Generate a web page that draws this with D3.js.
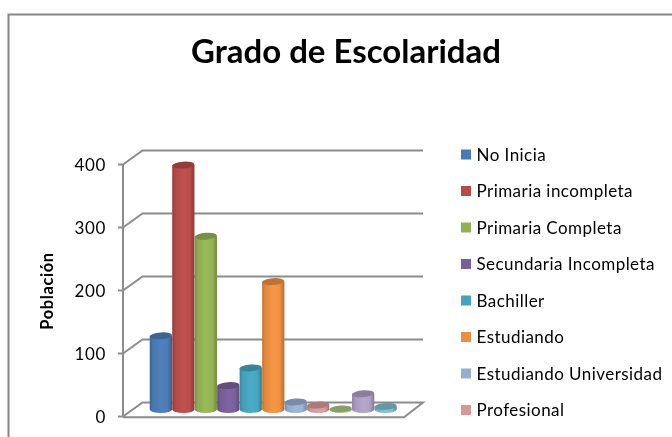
<!DOCTYPE html>
<html><head><meta charset="utf-8">
<script src="https://cdn.jsdelivr.net/npm/d3@7"></script>
<style>html,body{margin:0;padding:0;background:#fff;overflow:hidden}svg{display:block;filter:blur(0.35px)}text{font-family:Lato,sans-serif;fill:#000}</style>
</head><body><svg id="c" width="672" height="437"></svg>
<script>
const title = "Grado de Escolaridad";
const yTitle = "Población";
const legendLabels = ["No Inicia","Primaria incompleta","Primaria Completa","Secundaria Incompleta","Bachiller","Estudiando","Estudiando Universidad","Profesional"];
const values = [117,388,275,38,66,203,12,7,1,25,5];
const colors = ["#4F81BD","#C0504D","#9BBB59","#8064A2","#4BACC6","#F79646","#A0B8DC","#DFA0A0","#B5CC8E","#B7A6CC","#84C5D8"];
const yTicks = [0,100,200,300,400];

const svg = d3.select("#c");
const defs = svg.append("defs");
const y = d3.scaleLinear().domain([0,400]).range([416.5,164.5]);
const x = d3.scaleBand().domain(d3.range(values.length)).range([149.5,397]).padding(0.01);
const depthX = 19.5, depthY = -14, backRight = 423, frontRight = 404;
const gray = "#8c8c8c";

svg.append("path").attr("d","M8.5,437V14.5H672").attr("fill","none").attr("stroke","#868686").attr("stroke-width",2);

svg.append("text").attr("x",346).attr("y",63).attr("text-anchor","middle")
  .attr("font-size",33).attr("font-weight",700).attr("textLength",310).attr("lengthAdjust","spacingAndGlyphs").text(title);

// gridlines
const x0 = x.range()[0]-26.5;
yTicks.forEach(t=>{
  const py = y(t);
  if(t===0){
    svg.append("path").attr("d",`M${x0},${py}L${x0+depthX},${py+depthY}H${backRight}L${frontRight},${py+0.8}H${x0}`)
      .attr("fill","#fff").attr("stroke",gray).attr("stroke-width",2);
  } else {
    svg.append("path").attr("d",`M${x0},${py}L${x0+depthX},${py+depthY}H${backRight}`)
      .attr("fill","none").attr("stroke",gray).attr("stroke-width",2);
  }
  svg.append("line").attr("x1",x0-5).attr("x2",x0).attr("y1",py).attr("y2",py).attr("stroke",gray).attr("stroke-width",2);
  svg.append("text").attr("x",106).attr("y",py+6.5).attr("text-anchor","end").attr("font-size",17).attr("letter-spacing",0.6).attr("fill","#222").text(t);
});
svg.append("line").attr("x1",x0).attr("x2",x0).attr("y1",y(400)).attr("y2",y(0)).attr("stroke",gray).attr("stroke-width",2);

svg.append("text").attr("transform","translate(53,291) rotate(-90)").attr("text-anchor","middle")
  .attr("font-size",16.5).attr("font-weight",700).attr("letter-spacing",0.6).text(yTitle);

// bars
const ry = 3.4, base = y(0)+depthY/2;
values.forEach((v,i)=>{
  const c = colors[i], d = d3.color(c);
  const gid = "g"+i;
  const g = defs.append("linearGradient").attr("id",gid);
  [[0,d.darker(0.7)],[0.14,d.darker(0.25)],[0.5,d],[0.8,d.darker(0.1)],[1,d.darker(0.9)]].forEach(s=>
    g.append("stop").attr("offset",s[0]).attr("stop-color",s[1]));
  const l = x(i), w = x.bandwidth(), rx = w/2, cx = l+rx;
  const top = base-(y(0)-y(v));
  svg.append("path")
    .attr("d",`M${l},${top}V${base}A${rx},${ry} 0 0 0 ${l+w},${base}V${top}Z`)
    .attr("fill",`url(#${gid})`);
  svg.append("ellipse").attr("cx",cx).attr("cy",top).attr("rx",rx).attr("ry",ry)
    .attr("transform",`rotate(-4 ${cx} ${top})`)
    .attr("fill",d.darker(0.75));
});

// legend
const ly = d3.scalePoint().domain(legendLabels).range([154.5,410]);
legendLabels.forEach((t,i)=>{
  svg.append("rect").attr("x",461).attr("y",ly(t)-5).attr("width",10).attr("height",10).attr("fill",d3.color(colors[i]).darker(0.15));
  svg.append("text").attr("x",476.5).attr("y",ly(t)+6).attr("font-size",17).attr("letter-spacing",0.45).attr("font-weight",400).attr("fill","#222").text(t);
});
</script></body></html>
